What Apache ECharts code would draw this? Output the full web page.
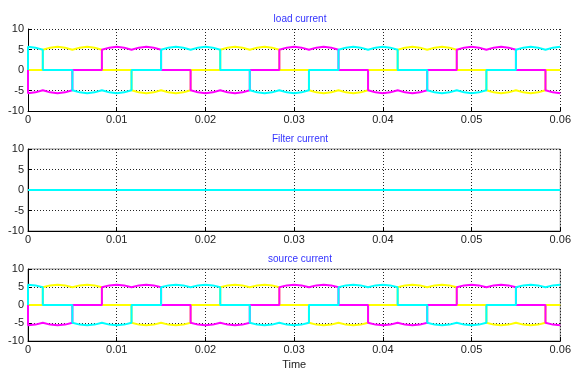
<!DOCTYPE html>
<html>
<head>
<meta charset="utf-8">
<script src="https://cdn.jsdelivr.net/npm/echarts@6/dist/echarts.min.js"></script>
<style>
  html, body { margin: 0; padding: 0; background: #fff; }
  #chart { width: 574px; height: 371px; }
</style>
</head>
<body>
<div id="chart"></div>
<script>
// panel titles
const titles = ['load current', 'Filter current', 'source current'];
const xTicks = [0, 0.01, 0.02, 0.03, 0.04, 0.05, 0.06];
const yTicks = [-10, -5, 0, 5, 10];

// phase currents, [time s, current A]
const phaseYellow = [
  [0, 0], [0.00167, 0], [0.00167, 4.95], [0.0025, 5.45], [0.00333, 5.65], [0.00417, 5.45], [0.005, 4.95], [0.00583, 5.45], [0.00667, 5.65], [0.0075, 5.45], [0.00833, 4.95], [0.00833, 0],
  [0.01167, 0], [0.01167, -4.95], [0.0125, -5.45], [0.01333, -5.65], [0.01417, -5.45], [0.015, -4.95], [0.01583, -5.45], [0.01667, -5.65], [0.0175, -5.45], [0.01833, -4.95], [0.01833, 0],
  [0.02167, 0], [0.02167, 4.95], [0.0225, 5.45], [0.02333, 5.65], [0.02417, 5.45], [0.025, 4.95], [0.02583, 5.45], [0.02667, 5.65], [0.0275, 5.45], [0.02833, 4.95], [0.02833, 0],
  [0.03167, 0], [0.03167, -4.95], [0.0325, -5.45], [0.03333, -5.65], [0.03417, -5.45], [0.035, -4.95], [0.03583, -5.45], [0.03667, -5.65], [0.0375, -5.45], [0.03833, -4.95], [0.03833, 0],
  [0.04167, 0], [0.04167, 4.95], [0.0425, 5.45], [0.04333, 5.65], [0.04417, 5.45], [0.045, 4.95], [0.04583, 5.45], [0.04667, 5.65], [0.0475, 5.45], [0.04833, 4.95], [0.04833, 0],
  [0.05167, 0], [0.05167, -4.95], [0.0525, -5.45], [0.05333, -5.65], [0.05417, -5.45], [0.055, -4.95], [0.05583, -5.45], [0.05667, -5.65], [0.0575, -5.45], [0.05833, -4.95], [0.05833, 0],
  [0.06, 0]
];
const phaseMagenta = [
  [0, 0], [0, -5.65], [0.00083, -5.45], [0.00167, -4.95], [0.0025, -5.45], [0.00333, -5.65], [0.00417, -5.45], [0.005, -4.95], [0.005, 0],
  [0.00833, 0], [0.00833, 4.95], [0.00917, 5.45], [0.01, 5.65], [0.01083, 5.45], [0.01167, 4.95], [0.0125, 5.45], [0.01333, 5.65], [0.01417, 5.45], [0.015, 4.95], [0.015, 0],
  [0.01833, 0], [0.01833, -4.95], [0.01917, -5.45], [0.02, -5.65], [0.02083, -5.45], [0.02167, -4.95], [0.0225, -5.45], [0.02333, -5.65], [0.02417, -5.45], [0.025, -4.95], [0.025, 0],
  [0.02833, 0], [0.02833, 4.95], [0.02917, 5.45], [0.03, 5.65], [0.03083, 5.45], [0.03167, 4.95], [0.0325, 5.45], [0.03333, 5.65], [0.03417, 5.45], [0.035, 4.95], [0.035, 0],
  [0.03833, 0], [0.03833, -4.95], [0.03917, -5.45], [0.04, -5.65], [0.04083, -5.45], [0.04167, -4.95], [0.0425, -5.45], [0.04333, -5.65], [0.04417, -5.45], [0.045, -4.95], [0.045, 0],
  [0.04833, 0], [0.04833, 4.95], [0.04917, 5.45], [0.05, 5.65], [0.05083, 5.45], [0.05167, 4.95], [0.0525, 5.45], [0.05333, 5.65], [0.05417, 5.45], [0.055, 4.95], [0.055, 0],
  [0.05833, 0], [0.05833, -4.95], [0.05917, -5.45], [0.06, -5.65]
];
const phaseCyan = [
  [0, 0], [0, 5.65], [0.00083, 5.45], [0.00167, 4.95], [0.00167, 0],
  [0.005, 0], [0.005, -4.95], [0.00583, -5.45], [0.00667, -5.65], [0.0075, -5.45], [0.00833, -4.95], [0.00917, -5.45], [0.01, -5.65], [0.01083, -5.45], [0.01167, -4.95], [0.01167, 0],
  [0.015, 0], [0.015, 4.95], [0.01583, 5.45], [0.01667, 5.65], [0.0175, 5.45], [0.01833, 4.95], [0.01917, 5.45], [0.02, 5.65], [0.02083, 5.45], [0.02167, 4.95], [0.02167, 0],
  [0.025, 0], [0.025, -4.95], [0.02583, -5.45], [0.02667, -5.65], [0.0275, -5.45], [0.02833, -4.95], [0.02917, -5.45], [0.03, -5.65], [0.03083, -5.45], [0.03167, -4.95], [0.03167, 0],
  [0.035, 0], [0.035, 4.95], [0.03583, 5.45], [0.03667, 5.65], [0.0375, 5.45], [0.03833, 4.95], [0.03917, 5.45], [0.04, 5.65], [0.04083, 5.45], [0.04167, 4.95], [0.04167, 0],
  [0.045, 0], [0.045, -4.95], [0.04583, -5.45], [0.04667, -5.65], [0.0475, -5.45], [0.04833, -4.95], [0.04917, -5.45], [0.05, -5.65], [0.05083, -5.45], [0.05167, -4.95], [0.05167, 0],
  [0.055, 0], [0.055, 4.95], [0.05583, 5.45], [0.05667, 5.65], [0.0575, 5.45], [0.05833, 4.95], [0.05917, 5.45], [0.06, 5.65]
];
// filter current stays at zero
const filterCurrent = [[0, 0], [0.06, 0]];

const colors = { yellow: '#ffff00', magenta: '#ff00ff', cyan: '#00ffff' };
const font = 'Liberation Sans';
const gridTops = [29, 149, 269];

const chart = echarts.init(document.getElementById('chart'), null, { renderer: 'canvas' });

const grids = gridTops.map((top, i) => ({
  left: 28,
  right: 12,
  top,
  height: 82,
  show: i > 0,
  borderColor: '#888',
  borderWidth: 1,
  backgroundColor: 'transparent',
}));

const dots = { color: '#222', width: 1, type: [1, 2] };

const xAxes = gridTops.map((_, i) => ({
  type: 'value',
  gridIndex: i,
  min: xTicks[0],
  max: xTicks[xTicks.length - 1],
  interval: 0.01,
  axisLine: { show: true, onZero: false, lineStyle: { color: '#000', width: 1 } },
  axisTick: { show: true, inside: true, length: 4, lineStyle: { color: '#000' } },
  splitLine: { show: true, lineStyle: dots },
  axisLabel: {
    color: '#222',
    fontFamily: font,
    fontSize: 11,
    margin: 3,
    formatter: (v) => (v === 0 ? '0' : v.toFixed(2)),
  },
  name: i === 2 ? 'Time' : '',
  nameLocation: 'middle',
  nameGap: 18,
  nameTextStyle: { color: '#222', fontFamily: font, fontSize: 11 },
}));

const yAxes = gridTops.map((_, i) => ({
  type: 'value',
  gridIndex: i,
  min: yTicks[0],
  max: yTicks[yTicks.length - 1],
  interval: 5,
  axisLine: { show: true, onZero: false, lineStyle: { color: '#000', width: 1 } },
  axisTick: { show: true, inside: true, length: 4, lineStyle: { color: '#000' } },
  splitLine: { show: true, lineStyle: dots },
  axisLabel: { color: '#222', fontFamily: font, fontSize: 11, margin: 4 },
}));

const lineSeries = (data, color, idx) => ({
  type: 'line',
  xAxisIndex: idx,
  yAxisIndex: idx,
  data,
  showSymbol: false,
  symbol: 'none',
  lineStyle: { color, width: 2 },
  silent: true,
});

const series = [
  lineSeries(phaseYellow, colors.yellow, 0),
  lineSeries(phaseMagenta, colors.magenta, 0),
  lineSeries(phaseCyan, colors.cyan, 0),
  lineSeries(filterCurrent, colors.yellow, 1),
  lineSeries(filterCurrent, colors.magenta, 1),
  lineSeries(filterCurrent, colors.cyan, 1),
  lineSeries(phaseYellow, colors.yellow, 2),
  lineSeries(phaseMagenta, colors.magenta, 2),
  lineSeries(phaseCyan, colors.cyan, 2),
];

const option = {
  animation: false,
  backgroundColor: '#fff',
  title: titles.map((text, i) => ({
    text,
    left: 295,
    textAlign: 'center',
    top: gridTops[i] - 20,
    textStyle: { color: '#3333ff', fontFamily: font, fontSize: 10, fontWeight: 'normal' },
  })),
  grid: grids,
  xAxis: xAxes,
  yAxis: yAxes,
  series,
};

chart.setOption(option);
</script>
</body>
</html>
